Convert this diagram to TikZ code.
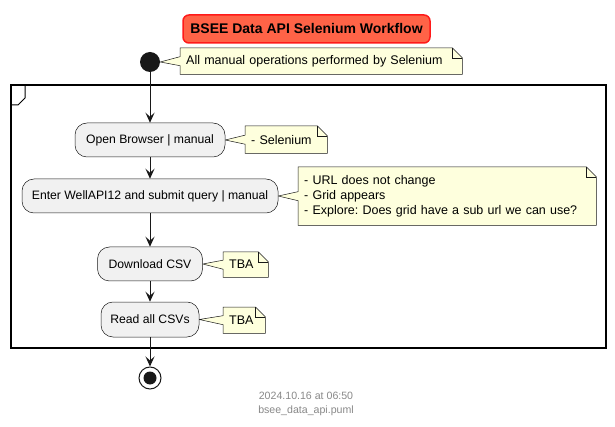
\documentclass[tikz,border=0pt]{standalone}
\usepackage{fontspec}
\setmainfont{Liberation Sans}
\usetikzlibrary{arrows.meta,backgrounds}
\frenchspacing
\definecolor{actfill}{HTML}{F1F1F1}
\definecolor{linec}{HTML}{181818}
\definecolor{notefill}{HTML}{FEFFDD}
\definecolor{titlefill}{HTML}{FF6347}
\definecolor{titledraw}{HTML}{FF1A1A}
\definecolor{footgray}{HTML}{888888}
\tikzset{
  activity/.style={draw=linec, line width=0.5pt, fill=actfill, rounded corners=12pt,
    font=\fontsize{12.2}{14}\selectfont, inner sep=0pt, minimum height=34pt},
  notebox/.style={inner xsep=6pt, inner ysep=0pt, font=\fontsize{12.5}{15}\selectfont,
    align=left, anchor=north west},
  noteline/.style={draw=linec, line width=0.5pt, fill=notefill},
  flow/.style={draw=linec, line width=1pt, -{Stealth[length=10pt,width=9pt,inset=4pt]}},
}
\newcommand\drawnote[2]{%
  \begin{pgfonlayer}{background}
  \draw[noteline] (#1.north west) -- ([xshift=-10pt]#1.north east) -- ([yshift=-10pt]#1.north east)
    -- (#1.south east) -- (#1.south west) -- ([yshift=-4.5pt]#1.west) -- (#2)
    -- ([yshift=4.5pt]#1.west) -- cycle;
  \draw[draw=linec, line width=0.5pt] ([xshift=-10pt]#1.north east) -- ([xshift=-10pt,yshift=-10pt]#1.north east)
    -- ([yshift=-10pt]#1.north east);
  \end{pgfonlayer}}
\begin{document}
\begin{tikzpicture}[x=1pt,y=-1pt]
\useasboundingbox (0,0) rectangle (615,427);
% title
\node[draw=titledraw, line width=1.5pt, fill=titlefill, rounded corners=6pt,
  minimum width=247pt, minimum height=28pt, inner sep=0pt,
  font=\fontsize{14}{16}\selectfont\bfseries] (title) at (306.5,29) {BSEE Data API Selenium Workflow};
% start
\node[circle, fill=linec, minimum size=20pt, inner sep=0pt] (start) at (150,62) {};
\node[notebox, text width=270pt, minimum height=26pt] (n0) at (180,48) {All manual operations performed by Selenium};
\drawnote{n0}{start.east}
% frame
\draw[line width=1.3pt, draw=black] (11,85) rectangle (606,348);
\draw[line width=1pt, draw=black] (25,85) -- (25,98) -- (18,105) -- (11,105);
% activities
\node[activity, minimum width=150pt] (open) at (150,140) {Open Browser | manual};
\node[notebox, text width=70pt, minimum height=27pt] (n1) at (245,126) {- Selenium};
\drawnote{n1}{open.east}

\node[activity, minimum width=256pt] (enter) at (150,196) {Enter WellAPI12 and submit query | manual};
\node[notebox, text width=286pt, minimum height=58pt] (n2) at (298,167) {- URL does not change\\- Grid appears\\- Explore: Does grid have a sub url we can use?};
\drawnote{n2}{enter.east}

\node[activity, minimum width=105pt] (down) at (150,264) {Download CSV};
\node[notebox, text width=33pt, minimum height=25pt] (n3) at (223,252) {TBA};
\drawnote{n3}{down.east}

\node[activity, minimum width=98pt, minimum height=35pt] (read) at (150,319.5) {Read all CSVs};
\node[notebox, text width=30pt, minimum height=26pt] (n4) at (223,307) {TBA};
\drawnote{n4}{read.east}
% end
\node[circle, draw=linec, line width=1pt, fill=white, minimum size=22pt, inner sep=0pt] (stop) at (150,378) {};
\node[circle, fill=linec, minimum size=13pt, inner sep=0pt] (stopin) at (stop.center) {};
% flows
\draw[flow] (start) -- (open);
\draw[flow] (open) -- (enter);
\draw[flow] (enter) -- (down);
\draw[flow] (down) -- (read);
\draw[flow] (read) -- (stop);
% footer
\node[font=\fontsize{10.6}{12}\selectfont, text=footgray, align=center, inner sep=0pt] (foot) at (306,404)
  {2024.10.16 at 06:50\\[1.5pt]bsee\_data\_api.puml};
\end{tikzpicture}
\end{document}
